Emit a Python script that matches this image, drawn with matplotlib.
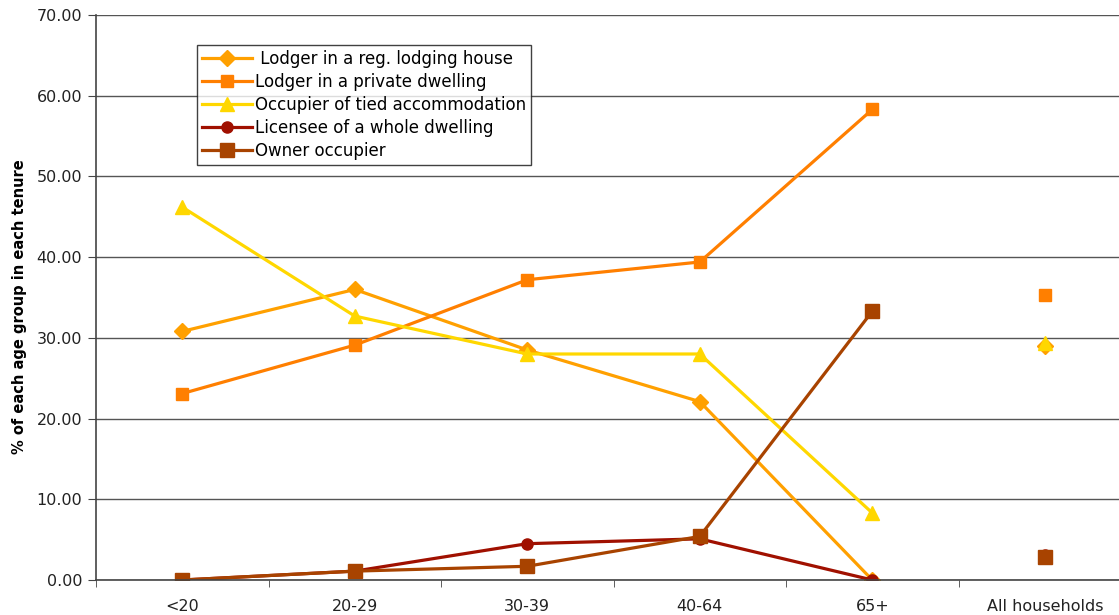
import matplotlib
matplotlib.use("Agg")
import matplotlib.pyplot as plt
import numpy as np

categories = ["<20", "20-29", "30-39", "40-64", "65+", "All households"]

lodging_house = [30.8, 36.0, 28.5, 22.1, 0.0, 29.0]
private_dwelling = [23.1, 29.1, 37.2, 39.4, 58.3, 35.3]
tied_accommodation = [46.2, 32.7, 28.0, 28.0, 8.3, 29.4]
licensee = [0.0, 1.1, 4.5, 5.1, 0.0, 3.1]
owner_occupier = [0.0, 1.1, 1.7, 5.4, 33.3, 2.9]

series = [
    (" Lodger in a reg. lodging house", lodging_house, "#FFA000", "D", 8),
    ("Lodger in a private dwelling", private_dwelling, "#FF7F00", "s", 9),
    ("Occupier of tied accommodation", tied_accommodation, "#FFD700", "^", 10),
    ("Licensee of a whole dwelling", licensee, "#A01000", "o", 8),
    ("Owner occupier", owner_occupier, "#A84300", "s", 10),
]

fig = plt.figure(figsize=(11.19, 6.15), dpi=100)
ax = fig.add_axes([96 / 1119, 35 / 615, 1 - 96 / 1119, 565 / 615])

x = np.arange(len(categories))
n_age = 5
for label, vals, color, marker, ms in series:
    # age groups joined by a line, the all-households value drawn on its own
    ax.plot(x[:n_age], vals[:n_age], color=color, lw=2.3, marker=marker,
            ms=ms, mec=color, mfc=color, label=label)
    ax.plot(x[n_age:], vals[n_age:], color=color, lw=0, marker=marker,
            ms=ms, mec=color, mfc=color)

ax.set_ylim(0, 70)
ax.set_xlim(-0.5, 5.43)
ax.set_yticks(np.arange(0, 71, 10))
ax.set_yticklabels([f"{v:.2f}" for v in np.arange(0, 71, 10)], fontsize=11.5, color="#222222")
ax.yaxis.grid(True, color="#555555", lw=1)
ax.set_axisbelow(True)

ax.set_xticks(x)
ax.set_xticklabels(categories, fontsize=11.5, color="#222222")
ax.set_xticks(np.arange(-0.5, 5.5, 1), minor=True)
ax.tick_params(axis="x", which="major", length=0, pad=14)
ax.tick_params(axis="x", which="minor", length=5, direction="out", color="#444444")
ax.tick_params(axis="y", length=6, direction="out", color="#444444", pad=4)

for side in ("top", "right"):
    ax.spines[side].set_visible(False)
for side in ("left", "bottom"):
    ax.spines[side].set_color("#444444")
    ax.spines[side].set_linewidth(1.2)

ax.set_ylabel("% of each age group in each tenure", fontsize=10.5, fontweight="bold")
ax.yaxis.set_label_coords(-0.067, 0.483)

leg = ax.legend(loc="upper left", bbox_to_anchor=(101 / 1023, 1 - 30 / 565),
                fontsize=12, frameon=True, fancybox=False, handlelength=3.0,
                handletextpad=0.2, borderpad=0.3, labelspacing=0.3,
                borderaxespad=0)
leg.get_frame().set_edgecolor("#111111")
leg.get_frame().set_linewidth(1)

fig.savefig("out.png", dpi=100)
